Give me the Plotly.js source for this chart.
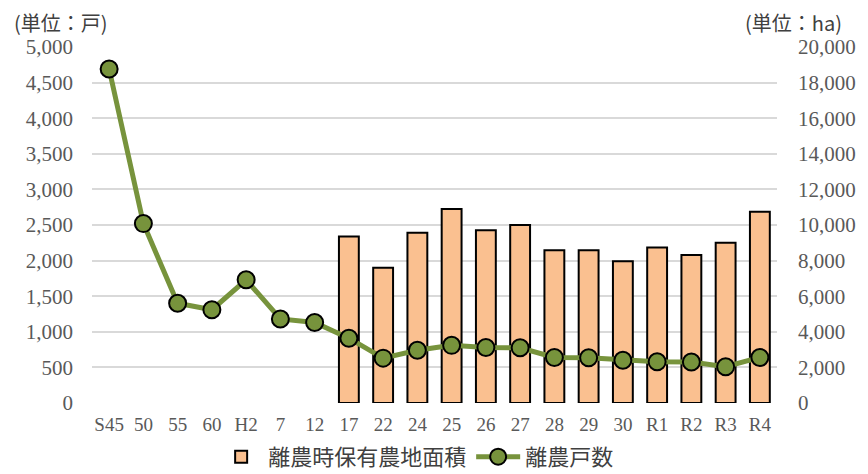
<!DOCTYPE html>
<html>
<head>
<meta charset="utf-8">
<script src="https://cdn.plot.ly/plotly-3.0.1.min.js"></script>
<style>html,body{margin:0;padding:0;background:#fff;}#chart{width:868px;height:474px;}</style>
</head>
<body>
<div id="chart"></div>
<script>
const categories = ["S45","50","55","60","H2","7","12","17","22","24","25","26","27","28","29","30","R1","R2","R3","R4"];
const farmHouseholds = [4690,2520,1400,1310,1730,1180,1130,910,630,740,810,780,775,640,635,600,580,575,510,640];
const farmlandArea = [null,null,null,null,null,null,null,9350,7600,9570,10900,9700,10000,8580,8580,7960,8730,8310,9000,10750];
const leftUnit = "(単位：戸)";
const rightUnit = "(単位：ha)";
const barName = "離農時保有農地面積";
const lineName = "離農戸数";

const numFont = "Liberation Serif, 'Noto Sans CJK JP', serif";
const jpFont = "'Noto Sans CJK JP', sans-serif";

const bars = {
  type: "bar", name: barName, x: categories, y: farmlandArea,
  yaxis: "y",
  marker: {color: "#FAC090", line: {color: "#000000", width: 2}},
  hoverinfo: "x+y"
};
const line = {
  type: "scatter", mode: "lines+markers", name: lineName, x: categories, y: farmHouseholds,
  yaxis: "y2",
  line: {color: "#77933C", width: 5},
  marker: {color: "#77933C", size: 17, line: {color: "#000000", width: 2}}
};

const layout = {
  width: 868, height: 474,
  margin: {l: 92, r: 91, t: 47, b: 71},
  paper_bgcolor: "#ffffff", plot_bgcolor: "#ffffff",
  bargap: 0.42,
  showlegend: true,
  legend: {orientation: "h", xref: "container", yref: "container", x: 0.48, xanchor: "center",
           y: 0.036, yanchor: "middle",
           font: {family: jpFont, size: 22, color: "#404040"}, itemwidth: 44,
           tracegroupgap: 0},
  xaxis: {type: "category", range: [-0.5, 19.5], showgrid: false, zeroline: false, showline: false,
          ticks: "", ticklabelstandoff: 8,
          tickfont: {family: numFont, size: 19, color: "#595959"}},
  yaxis: {side: "right", range: [0, 20000], dtick: 2000, tickformat: ",",
          showgrid: true, gridcolor: "#D9D9D9", gridwidth: 2, zeroline: false, showline: false,
          ticks: "", ticklabelstandoff: 20,
          tickfont: {family: numFont, size: 21, color: "#595959"}},
  yaxis2: {side: "left", overlaying: "y", range: [0, 5000], dtick: 500, tickformat: ",",
           showgrid: false, zeroline: false, showline: false,
           ticks: "", ticklabelstandoff: 18,
           tickfont: {family: numFont, size: 21, color: "#595959"}},
  annotations: [
    {text: leftUnit, xref: "paper", yref: "paper", x: -0.117, y: 1.0, yshift: 25, xanchor: "left", yanchor: "middle",
     showarrow: false, font: {family: jpFont, size: 20, color: "#404040"}},
    {text: rightUnit, xref: "paper", yref: "paper", x: 1.098, y: 1.0, yshift: 25, xanchor: "right", yanchor: "middle",
     showarrow: false, font: {family: jpFont, size: 20, color: "#404040"}}
  ]
};

Plotly.newPlot("chart", [bars, line], layout, {displayModeBar: false, staticPlot: true});
</script>
</body>
</html>
